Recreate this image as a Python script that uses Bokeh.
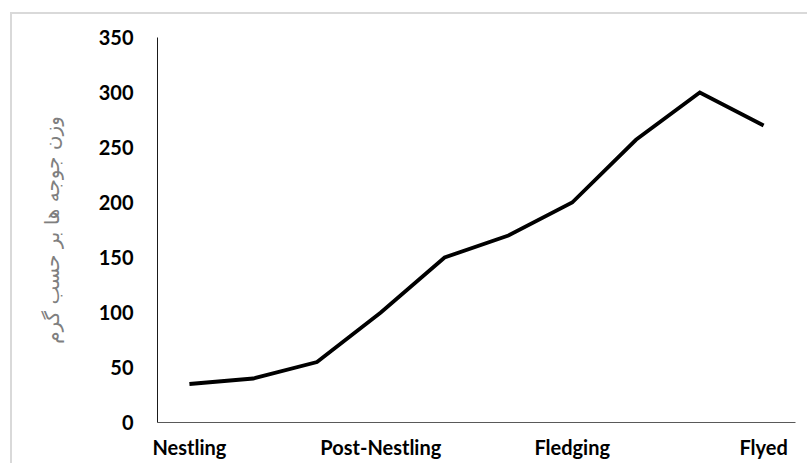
from bokeh.plotting import figure
from bokeh.models import Range1d, FixedTicker, InlineStyleSheet
from bokeh.embed import file_html
from bokeh.resources import INLINE

# data
sample = [1, 2, 3, 4, 5, 6, 7, 8, 9, 10]
weight = [35, 40, 55, 100, 150, 170, 200, 257, 300, 270]
stage_ticks = [1, 4, 7, 10]
stage_labels = ["Nestling", "Post-Nestling", "Fledging", "Flyed"]
y_ticks = [0, 50, 100, 150, 200, 250, 300, 350]
y_title = "وزن جوجه ها بر حسب گرم"

p = figure(width=800, height=463, output_backend="svg", toolbar_location=None,
           x_range=Range1d(0.5, 10.5), y_range=Range1d(0, 350),
           frame_width=638, frame_height=385,
           min_border_left=157, min_border_right=5, min_border_top=37, min_border_bottom=41)
p.outline_line_color = None
p.xgrid.visible = False
p.ygrid.visible = False
p.background_fill_color = "white"
p.border_fill_color = "white"

p.line(sample, weight, line_color="black", line_width=3.8, line_join="miter")

p.xaxis.ticker = FixedTicker(ticks=stage_ticks)
p.xaxis.major_label_overrides = {t: l for t, l in zip(stage_ticks, stage_labels)}
p.yaxis.ticker = FixedTicker(ticks=y_ticks)

for ax in (p.xaxis[0], p.yaxis[0]):
    ax.major_tick_line_color = None
    ax.minor_tick_line_color = None
    ax.major_tick_out = 0
    ax.major_tick_in = 0
    ax.major_label_text_font = "Lato"
    ax.major_label_text_font_style = "bold"
    ax.major_label_text_font_size = "20px"
    ax.major_label_text_color = "black"

p.xaxis.axis_line_color = "#595959"
p.yaxis.axis_line_color = "#1a1a1a"
p.xaxis.major_label_standoff = 12
p.yaxis.major_label_standoff = 24

p.yaxis.axis_label = y_title
p.yaxis.axis_label_text_font = "DejaVu Sans"
p.yaxis.axis_label_text_font_style = "normal"
p.yaxis.axis_label_text_font_size = "20px"
p.yaxis.axis_label_text_color = "#7f7f7f"
p.yaxis.axis_label_standoff = 32

# light grey chart-area border (top and left edges visible in the reference)
p.stylesheets = [InlineStyleSheet(css="""
:host::after {
  content: "";
  position: absolute;
  left: 10px;
  top: 12px;
  width: 797px;
  height: 451px;
  border-left: 2px solid #d9d9d9;
  border-top: 2px solid #d9d9d9;
  pointer-events: none;
  box-sizing: border-box;
}
""")]

open("out.html", "w").write(file_html(p, INLINE))
